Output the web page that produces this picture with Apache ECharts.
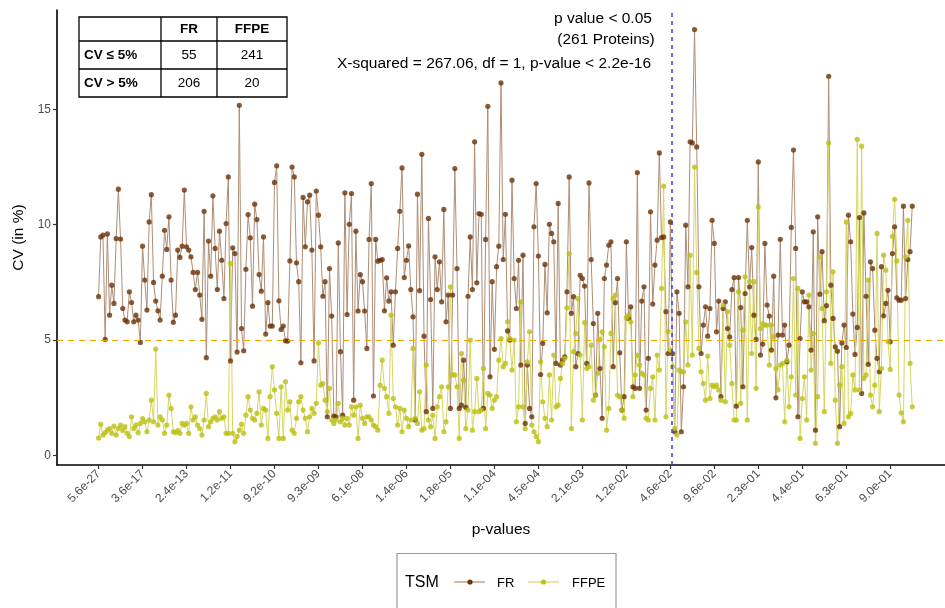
<!DOCTYPE html>
<html><head><meta charset="utf-8">
<script src="https://cdn.jsdelivr.net/npm/echarts@6/dist/echarts.min.js"></script>
<style>html,body{margin:0;padding:0;background:#fff}#c{width:945px;height:608px}</style>
</head><body><div id="c"></div>
<script>
const tickLabels = ["5.6e-27","3.6e-17","2.4e-13","1.2e-11","9.2e-10","9.3e-09","6.1e-08","1.4e-06","1.8e-05","1.1e-04","4.5e-04","2.1e-03","1.2e-02","4.6e-02","9.6e-02","2.3e-01","4.4e-01","6.3e-01","9.0e-01"];
const tickStep = 20;
const yTicks = [0, 5, 10, 15];

const frCV = [
6.88,9.47,9.55,5.03,9.6,6.08,7.38,6.59,9.40,11.54,9.38,6.37,5.87,5.79,7.09,6.63,5.79,6.08,5.87,4.9,9.07,7.6,6.3,10.12,11.3,7.5,6.69,6.27,5.87,7.77,9.76,8.93,10.34,7.6,5.77,6.08,8.9,8.58,9.07,11.5,
9.04,8.9,8.61,7.93,7.19,7.93,6.95,5.9,10.58,4.24,9.29,7.77,11.25,8.97,7.19,9.72,8.46,6.8,10.05,12.07,4.1,9.0,8.75,4.48,15.17,5.5,4.54,8.07,10.44,9.43,6.47,10.89,10.22,7.84,7.12,9.47,5.26,6.62,5.61,5.61,11.83,12.55,6.7,5.46,5.61,4.97,4.96,8.43,12.5,
12.07,8.35,7.53,4.02,11.18,9.04,10.99,11.28,8.9,4.1,11.46,10.41,9.04,6.9,7.53,1.68,8.1,6.04,1.71,1.68,9.21,4.5,1.75,11.38,6.11,10.02,11.35,2.4,9.72,6.26,7.84,7.53,6.26,4.64,9.36,11.78,2.58,9.36,8.42,8.46,8.49,6.27,7.7,6.69,7.09,4.78,7.09,8.97,10.58,
12.46,7.71,8.46,9.08,7.19,6.01,1.54,11.32,7.14,13.05,5.17,1.9,10.27,6.76,2.04,8.61,7.19,8.39,6.66,10.66,5.79,6.95,2.04,6.95,12.43,8.1,2.04,2.18,4.13,2.09,6.9,9.47,7.19,13.59,7.48,10.48,10.45,2.04,9.36,15.13,3.41,7.53,4.6,8.18,9.07,16.14,8.49,
10.45,5.4,5.0,11.93,7.67,6.37,8.46,3.92,8.68,1.39,3.92,2.04,1.68,9.91,11.78,8.64,3.51,4.86,8.28,6.18,10.02,9.62,9.26,3.99,10.92,3.92,4.13,4.28,7.09,12.07,6.16,6.88,3.85,4.42,7.81,7.67,7.34,3.99,11.81,8.49,5.72,2.62,6.16,3.77,1.61,7.67,8.25,9.11,
9.26,3.85,6.62,7.67,4.45,1.97,2.55,9.26,5.94,6.44,2.98,2.91,12.26,2.91,6.69,7.31,1.97,4.21,10.56,6.56,8.25,9.33,13.11,9.44,9.47,6.23,4.42,10.12,
4.42,1.03,7.09,6.16,1.03,2.98,9.98,7.31,13.59,13.54,18.45,13.37,7.31,4.42,5.65,6.44,5.17,6.37,10.19,9.19,
5.36,6.69,2.55,6.37,6.66,5.5,5.14,7.19,7.71,2.14,7.71,6.41,2.98,7.02,10.19,7.31,9.01,6.08,5.03,12.72,4.35,4.83,9.19,6.52,6.04,4.57,7.77,2.5,5.22,9.37,5.22,5.65,4.06,4.78,9.88,13.23,8.97,1.68,5.07,7.09,6.66,6.66,6.44,4.57,9.69,1.1,10.34,6.99,
8.83,5.84,6.49,16.43,7.38,5.94,4.71,4.52,1.25,4.88,5.65,4.68,10.41,9.26,6.13,4.38,5.55,10.31,2.69,10.51,6.9,3.95,8.39,8.1,5.43,4.21,3.63,8.18,6.05,6.59,7.16,4.93,8.75,9.91,6.83,6.73,6.73,10.8,6.8,8.49,8.83,10.8
];

const ffpeCV = [
0.76,1.36,0.89,0.99,1.1,1.17,0.96,1.28,0.89,1.17,1.32,1.08,1.25,0.96,0.82,1.68,1.17,1.32,0.99,1.39,1.6,1.46,1.03,1.54,2.4,1.46,4.61,1.32,1.68,1.54,0.96,1.32,2.62,2.04,1.03,0.99,1.08,0.96,1.39,1.32,
1.39,0.96,2.11,1.54,1.68,1.32,1.17,0.89,1.54,2.69,1.25,1.46,1.61,1.68,1.54,1.9,1.61,1.68,0.96,0.96,8.32,0.96,0.6,0.82,1.1,1.36,0.96,1.75,2.55,1.97,1.61,1.54,1.83,2.76,1.32,2.04,1.97,0.74,2.55,3.85,2.84,1.83,0.74,2.98,0.74,3.2,1.97,2.33,1.1,
0.96,1.61,2.33,2.55,1.97,1.61,1.03,1.68,2.04,1.83,2.26,4.88,3.05,3.12,2.4,1.9,2.91,1.54,1.39,1.54,2.26,1.46,1.61,1.32,1.61,1.32,2.11,1.75,2.11,0.74,2.18,1.61,1.39,1.68,1.68,1.54,1.32,1.25,1.1,3.05,4.13,2.91,2.55,1.83,6.08,2.47,2.11,1.32,2.04,
1.03,1.97,1.61,1.25,1.54,4.64,1.61,1.39,2.76,1.1,1.17,3.92,1.54,1.25,1.75,0.74,2.11,2.55,2.98,1.03,1.46,2.98,7.31,3.49,3.49,2.98,0.74,4.42,3.27,1.17,1.97,5.0,1.1,1.9,3.34,1.9,1.97,3.77,1.17,2.69,2.62,2.04,2.4,2.55,4.13,5.07,3.85,
3.99,5.79,5.07,3.7,5.0,1.46,2.11,6.66,2.11,1.17,4.06,5.36,1.32,1.03,0.82,0.6,4.06,2.33,1.61,1.25,3.49,1.54,4.35,2.11,2.18,3.34,3.99,4.21,6.4,8.75,1.17,4.5,5.29,6.8,4.35,1.54,5.76,3.77,3.85,4.78,2.4,2.62,3.56,5.03,5.36,4.71,1.1,2.04,
5.29,6.8,6.95,2.62,2.55,1.97,1.61,5.97,6.08,5.79,2.55,3.49,4.35,3.92,3.56,3.49,1.61,1.54,2.91,3.41,1.54,4.35,3.7,7.24,11.67,1.68,5.36,4.57,
3.85,1.17,0.89,3.7,3.63,3.63,5.79,3.92,8.68,4.35,12.5,7.93,4.64,3.63,3.12,2.4,4.31,2.47,3.05,2.98,
3.05,2.84,2.4,6.52,2.33,6.23,4.78,3.12,1.54,1.54,7.09,2.26,5.43,7.74,1.54,7.53,4.42,7.53,2.91,10.77,5.5,5.72,5.65,5.65,3.92,5.65,5.14,3.77,2.84,3.92,3.99,1.46,4.13,2.11,3.41,7.67,2.62,7.24,0.74,2.47,3.41,1.54,6.95,3.7,5.29,0.53,2.55,8.61,
6.37,1.9,7.09,13.54,3.99,7.96,2.4,0.53,3.05,3.85,1.39,10.12,1.68,1.83,3.49,2.84,13.7,2.84,13.4,3.34,3.49,7.6,2.62,2.11,3.05,9.62,1.9,3.77,8.68,8.03,4.93,3.73,9.5,11.1,8.43,2.62,1.85,1.46,8.61,10.19,3.99,2.11
];

const tableColNames = ["FR", "FFPE"];
const tableRowNames = ["CV \u2264 5%", "CV > 5%"];
const tableFR = [55, 206];
const tableFFPE = [241, 20];
const pCutPosition = 260.5;
const cvThreshold = 5;

const FONT = '"Liberation Sans", Arial, sans-serif';
const FR_PT = '#6c3208', FR_LN = '#ad8e76';
const FF_PT = '#bcbf14', FF_LN = '#d6d663';

const chart = echarts.init(document.getElementById('c'), null, {renderer: 'canvas'});
const tickIdx = tickLabels.map((_, k) => k * tickStep);

// table graphics
const tbl = [];
const tx0 = 79, tx1 = 161, tx2 = 217, tx3 = 287, ty0 = 17, ty1 = 41, ty2 = 69, ty3 = 97;
tbl.push({type:'rect', shape:{x:tx0,y:ty0,width:tx3-tx0,height:ty3-ty0}, style:{fill:'#fff',stroke:'#000',lineWidth:1.3}});
[[tx1,ty0,tx1,ty3],[tx2,ty0,tx2,ty3],[tx0,ty1,tx3,ty1],[tx0,ty2,tx3,ty2]].forEach(l=>{
  tbl.push({type:'line', shape:{x1:l[0],y1:l[1],x2:l[2],y2:l[3]}, style:{stroke:'#000',lineWidth:1.3}});
});
const colC = [(tx1+tx2)/2, (tx2+tx3)/2];
const rowC = [(ty0+ty1)/2, (ty1+ty2)/2, (ty2+ty3)/2];
tableColNames.forEach((n,j)=>tbl.push({type:'text', style:{text:n,x:colC[j],y:rowC[0],align:'center',verticalAlign:'middle',font:'bold 13.5px '+FONT,fill:'#000'}}));
tableRowNames.forEach((n,r)=>{
  tbl.push({type:'text', style:{text:n,x:84,y:rowC[r+1],align:'left',verticalAlign:'middle',font:'bold 13.5px '+FONT,fill:'#000'}});
  tbl.push({type:'text', style:{text:String(tableFR[r]),x:colC[0],y:rowC[r+1],align:'center',verticalAlign:'middle',font:'13.5px '+FONT,fill:'#000'}});
  tbl.push({type:'text', style:{text:String(tableFFPE[r]),x:colC[1],y:rowC[r+1],align:'center',verticalAlign:'middle',font:'13.5px '+FONT,fill:'#000'}});
});

// annotations
const ann = [
  {type:'text', style:{text:'p value < 0.05', x:603, y:19, align:'center', verticalAlign:'middle', font:'15.5px '+FONT, fill:'#000'}},
  {type:'text', style:{text:'(261 Proteins)', x:606, y:40, align:'center', verticalAlign:'middle', font:'15.5px '+FONT, fill:'#000'}},
  {type:'text', style:{text:'X-squared = 267.06, df = 1, p-value < 2.2e-16', x:494, y:64, align:'center', verticalAlign:'middle', font:'15.5px '+FONT, fill:'#000'}}
];

// legend box
const lg = [
  {type:'rect', shape:{x:397,y:553.5,width:219,height:70}, style:{fill:'#fff',stroke:'#9a9a9a',lineWidth:1.2}},
  {type:'text', style:{text:'TSM', x:405, y:583, verticalAlign:'middle', font:'16px '+FONT, fill:'#000'}},
  {type:'line', shape:{x1:454,y1:582,x2:485,y2:582}, style:{stroke:FR_LN,lineWidth:1.2}},
  {type:'circle', shape:{cx:470,cy:582,r:2.6}, style:{fill:FR_PT}},
  {type:'text', style:{text:'FR', x:497, y:583, verticalAlign:'middle', font:'13px '+FONT, fill:'#000'}},
  {type:'line', shape:{x1:528,y1:582,x2:559,y2:582}, style:{stroke:FF_LN,lineWidth:1.2}},
  {type:'circle', shape:{cx:543.5,cy:582,r:2.6}, style:{fill:FF_PT}},
  {type:'text', style:{text:'FFPE', x:572, y:583, verticalAlign:'middle', font:'13px '+FONT, fill:'#000'}}
];

const frData = frCV.map((v,i)=>[i,v]);
const ffData = ffpeCV.map((v,i)=>[i,v]);

chart.setOption({
  animation: false,
  backgroundColor: '#fff',
  textStyle: {fontFamily: FONT},
  grid: {left: 57, right: 0, top: 10, bottom: 143, containLabel: false},
  xAxis: {
    type: 'value', min: -18.9, max: 384.9,
    name: 'p-values', nameLocation: 'middle', nameGap: 57,
    nameTextStyle: {fontSize: 15.5, color: '#000', fontFamily: FONT},
    axisLine: {onZero: false, lineStyle: {color: '#000', width: 1.6}},
    axisTick: {customValues: tickIdx, length: 4, lineStyle: {color: '#333', width: 1.2}},
    axisLabel: {customValues: tickIdx, rotate: 45, color: '#4d4d4d', fontSize: 12, margin: 7, fontFamily: FONT,
      formatter: v => tickLabels[Math.round(v / tickStep)] || ''},
    splitLine: {show: false}
  },
  yAxis: {
    type: 'value', min: -0.41, max: 19.3,
    name: 'CV (in %)', nameLocation: 'middle', nameGap: 28,
    nameTextStyle: {fontSize: 15.5, color: '#000', fontFamily: FONT},
    axisLine: {onZero: false, lineStyle: {color: '#000', width: 1.6}},
    axisTick: {customValues: yTicks, length: 4, lineStyle: {color: '#333', width: 1.2}},
    axisLabel: {customValues: yTicks, color: '#4d4d4d', fontSize: 12, margin: 6, fontFamily: FONT},
    splitLine: {show: false}
  },
  series: [
    {name: 'FR', type: 'line', data: frData, showSymbol: false, lineStyle: {color: FR_LN, width: 1}, z: 2,
     markLine: {silent: true, symbol: 'none', label: {show: false},
       data: [{yAxis: cvThreshold, lineStyle: {color: '#f0a800', type: [6, 5], width: 1}}]}},
    {name: 'FFPE', type: 'line', data: ffData, showSymbol: false, lineStyle: {color: FF_LN, width: 1}, z: 2},
    {name: 'FR', type: 'scatter', data: frData, symbolSize: 5.2, itemStyle: {color: FR_PT}, z: 3},
    {name: 'FFPE', type: 'scatter', data: ffData, symbolSize: 5.2, itemStyle: {color: FF_PT}, z: 4,
     markLine: {silent: true, symbol: 'none', label: {show: false},
       data: [{xAxis: pCutPosition, lineStyle: {color: '#3b3bf0', type: [4, 4], width: 1.5}}]}}
  ],
  graphic: [...tbl, ...ann, ...lg]
});
</script></body></html>
